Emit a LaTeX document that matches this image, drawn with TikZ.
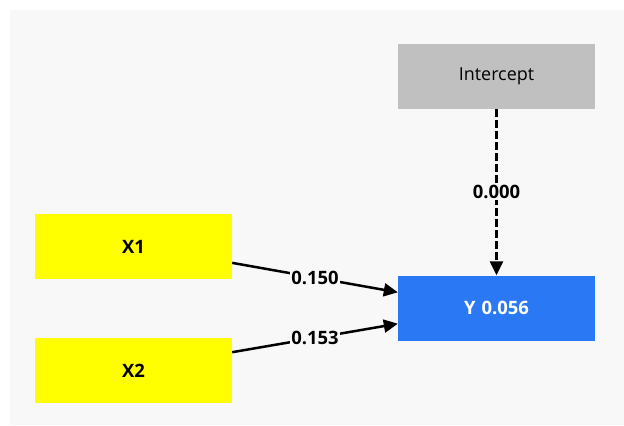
\documentclass[tikz,border=0pt]{standalone}
\usepackage{fontspec}
\setmainfont{Open Sans}
\usetikzlibrary{arrows.meta,calc}
\definecolor{bgc}{RGB}{248,248,248}
\definecolor{ycol}{RGB}{255,255,0}
\definecolor{gcol}{RGB}{192,192,192}
\definecolor{bcol}{RGB}{43,120,245}
\begin{document}
\begin{tikzpicture}[x=1bp,y=-1bp,
  box/.style={rectangle,minimum width=197bp,minimum height=65bp,inner sep=0pt,draw=none,font=\fontsize{18.5}{22}\selectfont\bfseries},
  conn/.style={line width=2.5bp,-{Triangle[length=14bp,width=13bp]}},
  elabel/.style={fill=bgc,inner sep=1bp,font=\fontsize{18.5}{22}\selectfont\bfseries}]
\useasboundingbox (0,0) rectangle (624,425);
\fill[bgc] (10,10) rectangle (624,425);
\node[box,fill=gcol,font=\fontsize{18}{22}\selectfont] (int) at (496.5,76.5) {Intercept};
\node[box,fill=bcol,text=white] (y) at (496.5,308) {Y\,\,0.056};
\node[box,fill=ycol] (x1) at (133.5,246.5) {X1};
\node[box,fill=ycol] (x2) at (133.5,370.5) {X2};
\coordinate (x1o) at ($(x1.south east)!0.25!(x1.north east)$);
\coordinate (x2o) at ($(x2.north east)!0.22!(x2.south east)$);
\coordinate (y1) at ($(y.north west)!0.26!(y.south west)$);
\coordinate (y2) at ($(y.south west)!0.26!(y.north west)$);
\draw[conn] (x1o) -- node[elabel] {0.150} (y1);
\draw[conn] (x2o) -- node[elabel] {0.153} (y2);
\draw[conn,dash pattern=on 8bp off 3bp] (int.south) -- node[elabel] {0.000} (y.north);
\end{tikzpicture}
\end{document}
